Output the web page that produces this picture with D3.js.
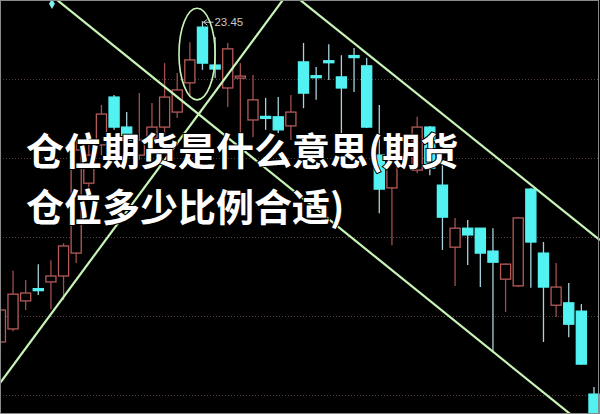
<!DOCTYPE html>
<html>
<head>
<meta charset="utf-8">
<script src="https://cdn.jsdelivr.net/npm/d3@7/dist/d3.min.js"></script>
<style>
  html, body { margin: 0; padding: 0; background: #000; }
  #chart { width: 600px; height: 414px; overflow: hidden; }
</style>
</head>
<body>
<div id="chart"></div>
<script>
// daily candles, index 0 = leftmost (partly cut off); slot 32 has no candle
const opens  = [15.33, 15.66, 16.37, 16.68, 16.85, 17.00, 17.58, 19.35, 20.32, 21.53,
                20.77, 20.06, 20.49, 20.77, 21.15, 21.89, 23.30, 22.34, 21.76, 22.04,
                20.95, 21.04, 21.03, 20.80, 22.42, 22.07, 22.45, 22.04, 22.58, 22.32,
                20.06, 19.23, null,  19.68, 20.77, 19.30, 17.73, 18.21, 18.21, 17.63,
                16.92, 16.75, 19.20, 17.58, 16.26, 16.32, 16.11, 14.01];
const highs  = [16.39, 17.13, 16.90, 17.30, 17.40, 17.83, 20.44, 20.44, 21.33, 21.58,
                21.15, 21.63, 21.38, 22.39, 22.14, 22.92, 23.45, 23.05, 22.90, 22.39,
                22.09, 21.51, 21.53, 21.58, 22.90, 22.29, 22.87, 22.59, 22.77, 22.52,
                21.33, 20.52, null,  21.03, 20.80, 19.94, 18.47, 18.42, 18.21, 18.21,
                17.32, 18.49, 19.22, 17.86, 17.33, 16.82, 16.29, 14.19];
const lows   = [15.12, 15.60, 16.14, 16.52, 16.16, 16.39, 17.33, 19.13, 20.06, 20.70,
                20.32, 19.94, 20.32, 20.57, 21.00, 21.53, 22.22, 22.01, 21.28, 20.62,
                20.52, 20.70, 20.62, 20.44, 21.25, 21.46, 21.96, 20.62, 21.66, 20.75,
                18.59, 17.78, null,  19.60, 19.55, 17.66, 16.75, 17.28, 16.72, 15.07,
                16.09, 16.72, 16.70, 15.33, 15.96, 15.45, 14.75, 13.30];
const closes = [16.14, 16.54, 16.57, 16.66, 17.00, 17.76, 20.19, 20.06, 21.10, 20.77,
                20.44, 20.44, 20.77, 21.53, 21.71, 22.47, 22.39, 22.24, 22.75, 22.06,
                21.46, 21.02, 20.70, 21.15, 21.63, 22.05, 22.43, 21.76, 22.56, 20.77,
                19.20, 19.89, null,  20.77, 19.73, 18.49, 18.21, 18.04, 17.58, 17.35,
                17.30, 18.47, 17.86, 16.72, 16.72, 15.78, 14.77, 13.35];

const gridPrices = [22, 20, 18, 16, 14];
const peakLabel = "23.45";
const titleLines = ["仓位期货是什么意思(期货", "仓位多少比例合适)"];

// hand-drawn trend lines, [index, price] end points
const trendLines = [
  [[4.48, 23.99], [45.10, 13.51]],
  [[23.72, 23.99], [47.47, 17.91]],
  [[-0.03, 14.29], [22.37, 23.99]]
];
// ellipse round the top: centre index/price and radii in index/price units
const ring = { i: 15.57, p: 22.62, ri: 1.43, rp: 1.16 };
const marker = { i: 4.08, p: 23.89 };

const width = 600, height = 414;

const candles = opens.map((o, i) => ({ i, o, h: highs[i], l: lows[i], c: closes[i] }))
  .filter(d => d.o !== null);

const svg = d3.select("#chart").append("svg")
  .attr("width", width)
  .attr("height", height)
  .style("background", "#000");

const x = d3.scaleLinear().domain([0, 47]).range([0.4, 594]);
const y = d3.scaleLinear().domain([22, 14]).range([78.5, 394.5]);
const bodyW = (x(1) - x(0)) * 0.8;

const upCol = "#b65a5a", upWick = "#a04e4e";
const downCol = "#52f2f2", downWick = "#a8d2dc";
const lineCol = "#c8f4b8";

// dotted price grid
svg.append("g")
  .selectAll("line")
  .data(gridPrices)
  .join("line")
  .attr("x1", 0).attr("x2", width)
  .attr("y1", d => Math.round(y(d)) + 0.5)
  .attr("y2", d => Math.round(y(d)) + 0.5)
  .attr("stroke", "#6e5050")
  .attr("stroke-width", 1)
  .attr("stroke-dasharray", "1 2")
  .attr("opacity", 0.8);

const cg = svg.append("g");

cg.selectAll("line")
  .data(candles)
  .join("line")
  .attr("x1", d => x(d.i)).attr("x2", d => x(d.i))
  .attr("y1", d => y(d.h)).attr("y2", d => y(d.l))
  .attr("stroke", d => d.c >= d.o ? upWick : downWick)
  .attr("stroke-width", 1.3);

cg.selectAll("rect")
  .data(candles)
  .join("rect")
  .attr("x", d => x(d.i) - bodyW / 2)
  .attr("width", bodyW)
  .attr("y", d => y(Math.max(d.o, d.c)))
  .attr("height", d => Math.max(2, Math.abs(y(d.o) - y(d.c))))
  .attr("fill", d => d.c >= d.o ? "#000" : downCol)
  .attr("stroke", d => d.c >= d.o ? upCol : downCol)
  .attr("stroke-width", 1.3);

// peak label
const peak = candles.reduce((a, b) => (b.h > a.h ? b : a));
svg.append("line")
  .attr("x1", x(peak.i) + 1).attr("x2", x(peak.i) + 11)
  .attr("y1", y(peak.h) + 1).attr("y2", y(peak.h) + 1)
  .attr("stroke", "#c8c8c8").attr("stroke-width", 1);
svg.append("path")
  .attr("d", `M${x(peak.i) + 1},${y(peak.h) + 1} l4,-3 M${x(peak.i) + 1},${y(peak.h) + 1} l4,3`)
  .attr("stroke", "#c8c8c8").attr("fill", "none");
svg.append("text")
  .attr("x", x(peak.i) + 12)
  .attr("y", y(peak.h) + 1)
  .attr("dy", "0.35em")
  .attr("font-family", "'Liberation Sans', Arial, sans-serif")
  .attr("font-size", 11.5)
  .attr("fill", "#c8c8c8")
  .text(peakLabel);

// trend lines
svg.append("g")
  .selectAll("line")
  .data(trendLines)
  .join("line")
  .attr("x1", d => x(d[0][0])).attr("y1", d => y(d[0][1]))
  .attr("x2", d => x(d[1][0])).attr("y2", d => y(d[1][1]))
  .attr("stroke", lineCol)
  .attr("stroke-width", 2.2);

svg.append("ellipse")
  .attr("cx", x(ring.i)).attr("cy", y(ring.p))
  .attr("rx", x(ring.i + ring.ri) - x(ring.i))
  .attr("ry", y(ring.p - ring.rp) - y(ring.p))
  .attr("fill", "none")
  .attr("stroke", lineCol)
  .attr("stroke-width", 1.6);

svg.append("path")
  .attr("d", d3.symbol().type(d3.symbolDiamond).size(30)())
  .attr("transform", `translate(${x(marker.i)},${y(marker.p)})`)
  .attr("fill", "#7ff0f0");

// overlaid title
svg.append("g")
  .selectAll("text")
  .data(titleLines)
  .join("text")
  .attr("x", 26)
  .attr("y", (d, i) => 151 + i * 56)
  .attr("dy", "0.36em")
  .attr("font-family", "'Noto Sans CJK SC', 'Noto Sans', sans-serif")
  .attr("font-weight", 700)
  .attr("font-size", 38)
  .attr("fill", "#fff")
  .attr("stroke", "#000")
  .attr("stroke-width", 2)
  .attr("paint-order", "stroke")
  .text(d => d);

svg.append("rect")
  .attr("x", 0.5).attr("y", 0.5)
  .attr("width", width - 2).attr("height", height - 1)
  .attr("fill", "none")
  .attr("stroke", "#8a8a8a")
  .attr("stroke-width", 1);
</script>
</body>
</html>
